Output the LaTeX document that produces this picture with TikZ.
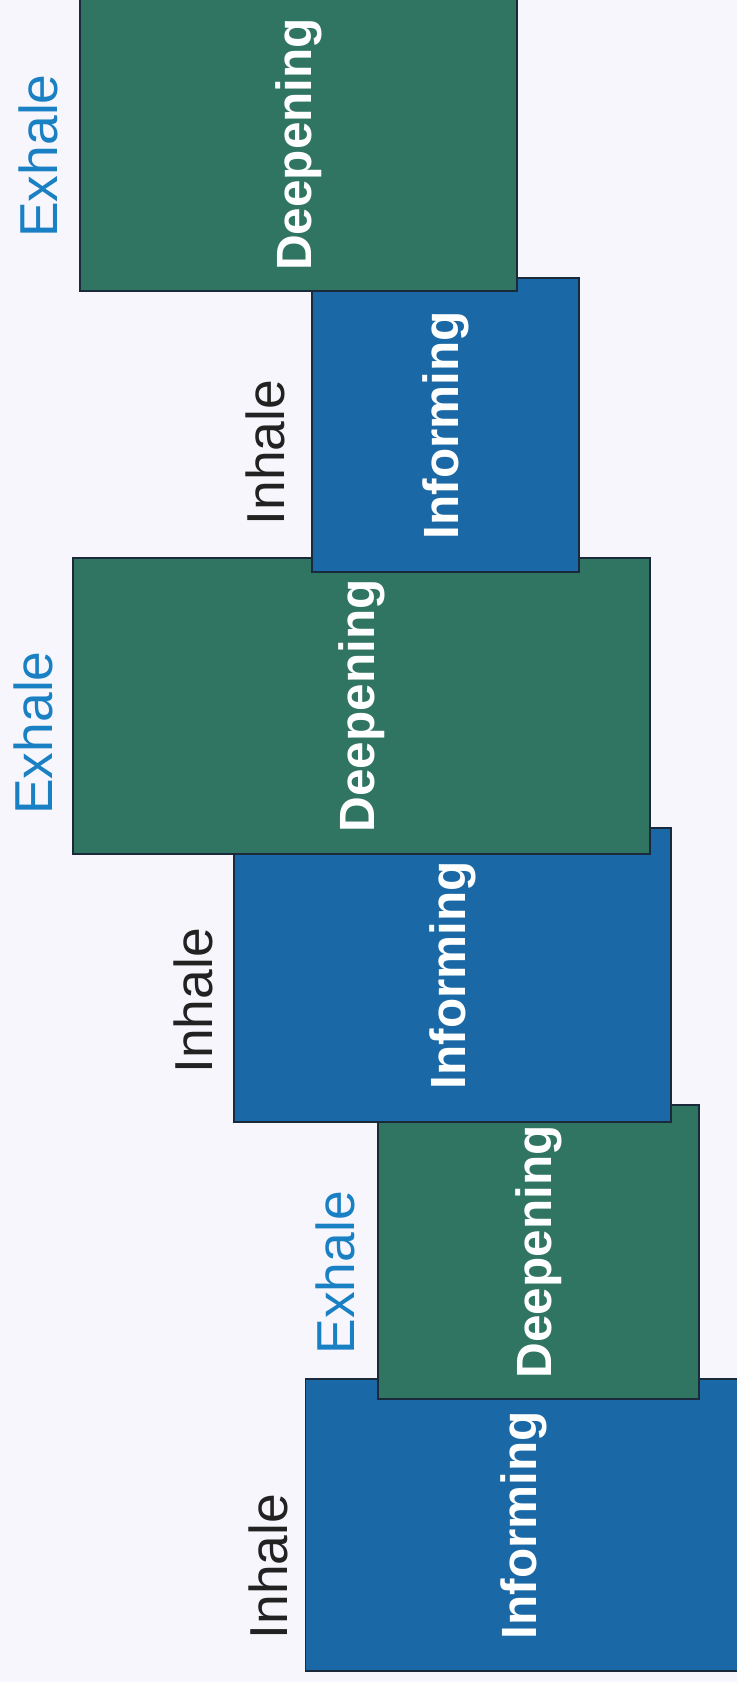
\documentclass[tikz,border=0pt]{standalone}
\usepackage{fontspec}
\setmainfont{Liberation Sans}
\usetikzlibrary{positioning}
\definecolor{paperbg}{HTML}{F7F6FC}
\definecolor{infoblue}{HTML}{1A69A6}
\definecolor{deepgreen}{HTML}{2F7562}
\definecolor{edgenavy}{HTML}{1B2A3A}
\definecolor{exblue}{HTML}{1A80C4}
\definecolor{inblack}{HTML}{222222}

\begin{document}
\begin{tikzpicture}[
        stage/.style={rectangle, draw=edgenavy, line width=0.8pt, rotate=90,
            text=white, inner sep=0pt, text centered,
            font=\bfseries\fontsize{35.2}{40}\selectfont},
        infobox/.style={stage, fill=infoblue},
        deepbox/.style={stage, fill=deepgreen},
        breath/.style={rotate=90, inner sep=0pt, font=\fontsize{38}{44}\selectfont},
        inlabel/.style={breath, text=inblack},
        exlabel/.style={breath, text=exblue},
    ]
        % Page
        \path[use as bounding box, fill=paperbg] (0,0) rectangle (18.425,42.05);
        \clip (0,0) rectangle (18.425,42.05);

        % Stages, drawn from the bottom up
        \node[infobox, minimum width=7.3cm, minimum height=10.925cm] (inform1) at (13.1, 3.925) {Informing};
        \node[deepbox, minimum width=7.35cm, minimum height=8.025cm] (deepen1) at (13.4625, 10.75) {Deepening};
        \node[infobox, minimum width=7.35cm, minimum height=10.925cm] (inform2) at (11.3125, 17.675) {Informing};
        \node[deepbox, minimum width=7.4cm, minimum height=14.425cm] (deepen2) at (9.0375, 24.4) {Deepening};
        \node[infobox, minimum width=7.35cm, minimum height=6.675cm] (inform3) at (11.1375, 31.425) {Informing};
        \node[deepbox, minimum width=7.325cm, minimum height=10.925cm] (deepen3) at (7.4625, 38.4375) {Deepening};

        % Breath labels
        \node[inlabel] (inhale1) at (6.7, 2.8875) {Inhale};
        \node[exlabel] (exhale1) at (8.3875, 10.23) {Exhale};
        \node[inlabel] (inhale2) at (4.84, 17.025) {Inhale};
        \node[exlabel] (exhale2) at (0.825, 23.725) {Exhale};
        \node[inlabel] (inhale3) at (6.6375, 30.7375) {Inhale};
        \node[exlabel] (exhale3) at (0.955, 38.15) {Exhale};
    \end{tikzpicture}
\end{document}
